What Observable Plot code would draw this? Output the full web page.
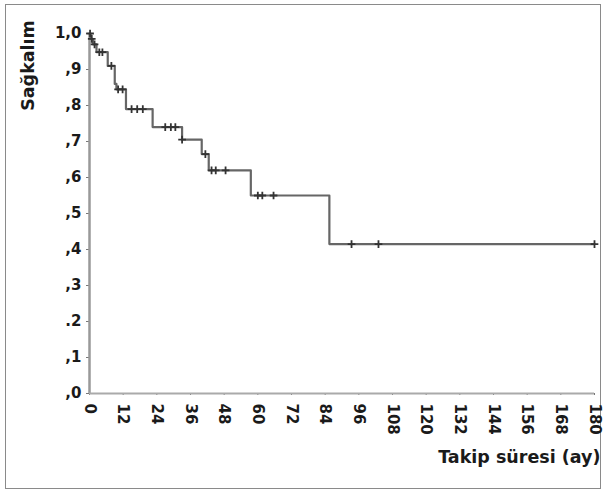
<!DOCTYPE html>
<html><head><meta charset="utf-8">
<script src="https://cdn.jsdelivr.net/npm/d3@7"></script>
<script src="https://cdn.jsdelivr.net/npm/@observablehq/plot@0.6"></script>
<style>
body{margin:0;background:#fff;}
#wrap{position:relative;width:605px;height:494px;}
#border{position:absolute;left:5px;top:4px;width:594px;height:483px;border:1px solid #8a8a8a;pointer-events:none;}
#wrap svg{position:absolute;left:0;top:0;}
</style></head><body><div id="wrap"><div id="border"></div></div>
<script>
// Kaplan-Meier steps: time (months) and survival after each step
const eventTimes    = [0,   0.4,   1.2,  2.5,   6.5,  9.0,  9.6,   13.0, 22.5, 33.0,  40.0,  42.5, 57.5, 85.5,  180];
const eventSurvival = [1.0, 0.985, 0.97, 0.948, 0.91, 0.86, 0.845, 0.79, 0.74, 0.705, 0.665, 0.62, 0.55, 0.415, 0.415];
// censored observations
const censorTimes    = [0.2, 0.8,   1.8,  3.5,   4.6,   7.8,  10.2,  11.8,  15,   17,   19,   27,   29,   30.6, 33,    41.3,  43.5, 45,   48.5, 60,   61.6, 65.6, 93.4,  103,   180];
const censorSurvival = [1.0, 0.985, 0.97, 0.948, 0.948, 0.91, 0.845, 0.845, 0.79, 0.79, 0.79, 0.74, 0.74, 0.74, 0.705, 0.665, 0.62, 0.62, 0.62, 0.55, 0.55, 0.55, 0.415, 0.415, 0.415];
const xTicks = [0, 12, 24, 36, 48, 60, 72, 84, 96, 108, 120, 132, 144, 156, 168, 180];
const yTicks = [0, 0.1, 0.2, 0.3, 0.4, 0.5, 0.6, 0.7, 0.8, 0.9, 1.0];
const yTickLabels = [",0", ",1", ".2", ",3", ",4", ",5", ",6", ",7", ",8", ",9", "1,0"];
const xTitle = "Takip süresi (ay)";
const yTitle = "Sağkalım";

const curve = eventTimes.map((t, i) => ({t, s: eventSurvival[i]}));
const censors = censorTimes.map((t, i) => ({t, s: censorSurvival[i]}));

const chart = Plot.plot({
  width: 605,
  height: 494,
  marginLeft: 89,
  marginRight: 11,
  marginTop: 33,
  marginBottom: 101,
  style: {fontFamily: "'DejaVu Sans', sans-serif", fontWeight: "bold", fontSize: "15px", color: "#1a1a1a", background: "transparent"},
  x: {domain: [0, 180]},
  y: {domain: [0, 1]},
  marks: [
    Plot.axisY({ticks: yTicks, tickFormat: d => yTickLabels[yTicks.indexOf(d)], tickSize: 3, tickPadding: 5, stroke: "#777", label: null, fill: "#1a1a1a"}),
    Plot.axisX({ticks: xTicks, tickRotate: 90, tickSize: 2, tickPadding: 8, stroke: "#777", label: null, fill: "#1a1a1a"}),
    Plot.ruleX([0], {stroke: "#999", strokeWidth: 2.5}),
    Plot.ruleY([0], {stroke: "#aaa", strokeWidth: 2}),
    Plot.line(curve, {x: "t", y: "s", curve: "step-after", stroke: "#666", strokeWidth: 2.2}),
    Plot.dot(censors, {x: "t", y: "s", symbol: "plus", r: 2.6, stroke: "#333", strokeWidth: 1.8}),
    Plot.text([yTitle], {frameAnchor: "top-left", rotate: -90, textAnchor: "middle", lineAnchor: "middle", dx: -61, dy: 32, fontSize: 17.5, fontWeight: "bold", fill: "#1a1a1a"}),
    Plot.text([xTitle], {frameAnchor: "bottom-right", textAnchor: "end", lineAnchor: "middle", dx: 6, dy: 64, fontSize: 17.5, fontWeight: "bold", fill: "#1a1a1a"})
  ]
});
document.getElementById("wrap").appendChild(chart);
</script></body></html>
